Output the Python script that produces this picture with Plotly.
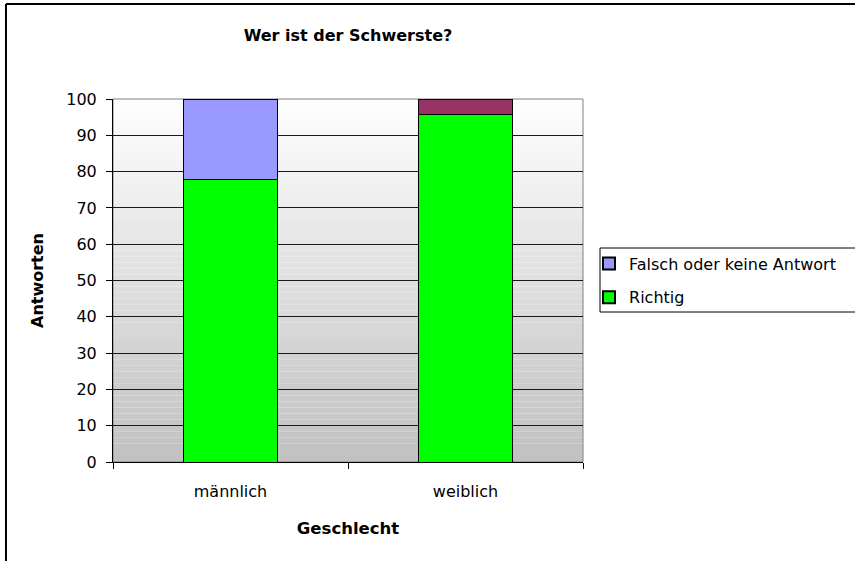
import plotly.graph_objects as go

categories = ["männlich", "weiblich"]
richtig = [77.8, 95.8]
falsch = [22.2, 4.2]
falsch_colors = ["#9999FF", "#993366"]
richtig_color = "#00FF00"
y_ticks = [0, 10, 20, 30, 40, 50, 60, 70, 80, 90, 100]

FONT = "DejaVu Sans, Liberation Sans, Arial, sans-serif"

fig = go.Figure()
fig.add_trace(go.Bar(
    x=categories, y=richtig, name="Richtig", legendgroup="r", legendrank=2,
    marker=dict(color=richtig_color, line=dict(color="#000000", width=1)),
    width=0.4,
))
fig.add_trace(go.Bar(
    x=categories, y=falsch, name="Falsch oder keine Antwort", legendgroup="f",
    legendrank=1,
    marker=dict(color=falsch_colors, line=dict(color="#000000", width=1)),
    width=0.4,
))

# gradient background of plot area (white top -> gray bottom)
n = 60
shapes = []
for i in range(n):
    t = (i + 0.5) / n  # 0 bottom -> 1 top
    g = int(round(192 + (255 - 192) * t))
    col = f"rgb({g},{g},{g})"
    shapes.append(dict(type="rect", xref="x domain", yref="y domain",
                       x0=0, x1=1, y0=i / n, y1=(i + 1) / n,
                       fillcolor=col, line=dict(width=0), layer="below"))
# plot area border (gray), drawn over gridlines but under bars
shapes.append(dict(type="rect", xref="paper", yref="paper",
                   x0=0, x1=1, y0=0, y1=1,
                   line=dict(color="#808080", width=1), layer="between"))

# paper extents of the figure (plot area 470x363 inside 855x561, margins 113/272/99/99)
X_RIGHT = (855 - 113) / 470
Y_BOTTOM = -99 / 363
OL, OT = -0.2277, 1.2617          # outer chart border left/top
LL, LB, LT = 1.0362, 0.4132, 0.5895  # legend box left/bottom/top


def line(x0, y0, x1, y1, w):
    return dict(type="line", xref="paper", yref="paper", x0=x0, y0=y0,
                x1=x1, y1=y1, line=dict(color="#000000", width=w))


shapes += [
    line(OL, Y_BOTTOM, OL, OT, 2),
    line(OL, OT, X_RIGHT, OT, 2),
    line(LL, LB, LL, LT, 1),
    line(LL, LT, X_RIGHT, LT, 1),
    line(LL, LB, X_RIGHT, LB, 1),
]

fig.update_layout(
    width=855, height=561,
    barmode="stack",
    paper_bgcolor="white",
    plot_bgcolor="rgba(0,0,0,0)",
    margin=dict(l=113, r=272, t=99, b=99),
    font=dict(family=FONT, size=16, color="#000000"),
    title=dict(text="<b>Wer ist der Schwerste?</b>", x=0.5, xref="paper",
               xanchor="center", y=0.9376, yanchor="middle",
               font=dict(family=FONT, size=16, color="#000000")),
    xaxis=dict(
        type="category", tickson="boundaries", ticks="outside", ticklen=6,
        tickcolor="#000000", showline=True, linecolor="#000000", linewidth=1,
        showgrid=False, ticklabelstandoff=15,
        title=dict(text="<b>Geschlecht</b>", font=dict(family=FONT, size=16.5), standoff=22),
        tickfont=dict(family=FONT, size=16),
    ),
    yaxis=dict(
        range=[0, 100], tickvals=y_ticks, ticks="outside", ticklen=6,
        tickcolor="#000000", showline=True, linecolor="#000000", linewidth=1,
        showgrid=True, gridcolor="#1a1a1a", gridwidth=1, zeroline=False,
        ticklabelstandoff=6,
        title=dict(text="<b>Antworten</b>", font=dict(family=FONT, size=16), standoff=18),
        tickfont=dict(family=FONT, size=16),
    ),
    legend=dict(
        x=1.0128, xanchor="left", y=0.50, yanchor="middle",
        traceorder="grouped", tracegroupgap=10, borderwidth=0,
        bgcolor="rgba(0,0,0,0)", font=dict(family=FONT, size=16),
        itemsizing="constant",
    ),
    shapes=shapes,
    showlegend=True,
)

fig.write_html(
    "out.html",
    config={"displayModeBar": False},
    post_script=(
        "document.body.style.margin='0';"
        "document.body.style.overflow='hidden';"
        "document.documentElement.style.overflow='hidden';"
    ),
)
